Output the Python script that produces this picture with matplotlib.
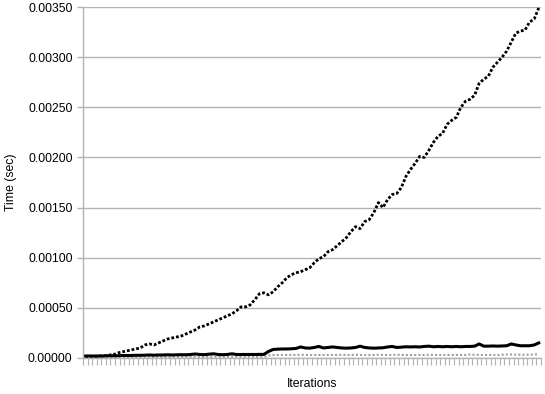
import numpy as np
import matplotlib
matplotlib.use("Agg")
import matplotlib.pyplot as plt
from matplotlib.ticker import FormatStrFormatter

plt.rcParams['font.family'] = ['Liberation Sans', 'DejaVu Sans']

# times, one value per iteration (100 iterations)
slow_times = [
    0.00001, 0.00001, 0.00001, 0.00002, 0.00002, 0.00003, 0.00003, 0.00005, 0.00006, 0.00007,
    0.00008, 0.00009, 0.00010, 0.00013, 0.00014, 0.00013, 0.00015, 0.00017, 0.00019, 0.00020,
    0.00021, 0.00022, 0.00024, 0.00026, 0.00028, 0.00031, 0.00032, 0.00034, 0.00036, 0.00038,
    0.00040, 0.00042, 0.00044, 0.00047, 0.00051, 0.00051, 0.00053, 0.00058, 0.00064, 0.00065,
    0.00063, 0.00066, 0.00071, 0.00075, 0.00080, 0.00083, 0.00085, 0.00086, 0.00088, 0.00090,
    0.00095, 0.00099, 0.00101, 0.00106, 0.00108, 0.00112, 0.00116, 0.00120, 0.00126, 0.00131,
    0.00129, 0.00136, 0.00138, 0.00145, 0.00155, 0.00150, 0.00158, 0.00163, 0.00164, 0.00170,
    0.00181, 0.00188, 0.00194, 0.00201, 0.00200, 0.00207, 0.00215, 0.00221, 0.00224, 0.00233,
    0.00237, 0.00240, 0.00250, 0.00256, 0.00258, 0.00262, 0.00274, 0.00278, 0.00281, 0.00290,
    0.00295, 0.00300, 0.00306, 0.00315, 0.00324, 0.00326, 0.00327, 0.00335, 0.00338, 0.00349,
]

mid_times = [
    0.000020, 0.000020, 0.000020, 0.000020, 0.000020, 0.000022, 0.000022, 0.000022, 0.000025, 0.000025,
    0.000025, 0.000027, 0.000027, 0.000028, 0.000030, 0.000028, 0.000030, 0.000030, 0.000032, 0.000030,
    0.000032, 0.000033, 0.000032, 0.000035, 0.000040, 0.000035, 0.000033, 0.000038, 0.000042, 0.000035,
    0.000033, 0.000035, 0.000042, 0.000035, 0.000035, 0.000035, 0.000035, 0.000035, 0.000036, 0.000036,
    0.000065, 0.000085, 0.000088, 0.000090, 0.000090, 0.000092, 0.000095, 0.000110, 0.000100, 0.000098,
    0.000105, 0.000115, 0.000100, 0.000105, 0.000110, 0.000105, 0.000100, 0.000098, 0.000100, 0.000105,
    0.000118, 0.000105, 0.000100, 0.000098, 0.000100, 0.000102, 0.000110, 0.000115, 0.000105, 0.000108,
    0.000112, 0.000110, 0.000112, 0.000110, 0.000115, 0.000118, 0.000112, 0.000115, 0.000112, 0.000115,
    0.000112, 0.000115, 0.000112, 0.000115, 0.000115, 0.000118, 0.000140, 0.000118, 0.000118, 0.000120,
    0.000118, 0.000120, 0.000122, 0.000140, 0.000130, 0.000122, 0.000122, 0.000122, 0.000130, 0.000150,
]

fast_times = [
    0.000010, 0.000010, 0.000010, 0.000010, 0.000010, 0.000010, 0.000010, 0.000010, 0.000010, 0.000010,
    0.000010, 0.000010, 0.000010, 0.000012, 0.000010, 0.000010, 0.000012, 0.000010, 0.000010, 0.000012,
    0.000012, 0.000012, 0.000012, 0.000012, 0.000012, 0.000012, 0.000012, 0.000012, 0.000012, 0.000012,
    0.000012, 0.000012, 0.000012, 0.000012, 0.000012, 0.000012, 0.000012, 0.000012, 0.000012, 0.000012,
    0.000025, 0.000030, 0.000030, 0.000030, 0.000030, 0.000030, 0.000030, 0.000032, 0.000030, 0.000030,
    0.000030, 0.000030, 0.000030, 0.000030, 0.000030, 0.000030, 0.000032, 0.000030, 0.000030, 0.000032,
    0.000030, 0.000030, 0.000030, 0.000030, 0.000032, 0.000030, 0.000030, 0.000030, 0.000032, 0.000030,
    0.000030, 0.000030, 0.000030, 0.000030, 0.000030, 0.000032, 0.000030, 0.000030, 0.000030, 0.000030,
    0.000030, 0.000030, 0.000030, 0.000030, 0.000035, 0.000032, 0.000030, 0.000030, 0.000030, 0.000030,
    0.000030, 0.000032, 0.000035, 0.000035, 0.000033, 0.000033, 0.000032, 0.000033, 0.000035, 0.000038,
]

y_ticks = [0.0, 0.0005, 0.0010, 0.0015, 0.0020, 0.0025, 0.0030, 0.0035]

iterations = np.arange(len(slow_times))

fig = plt.figure(figsize=(5.45, 3.94), dpi=100)
ax = fig.add_axes([0.1523, 0.0914, 0.8404, 0.8908])

grid_color = '#b3b3b3'
ax.plot(iterations, fast_times, color='#a0a0a0', linestyle=(0, (1, 1)), linewidth=1.5)
ax.plot(iterations, mid_times, color='black', linewidth=2.2, solid_joinstyle='round')
ax.plot(iterations, slow_times, color='black', linestyle=(0, (1, 0.7)), linewidth=2.0)

ax.set_xlim(-0.5, len(slow_times) - 0.5)
ax.set_ylim(0, 0.0035)
ax.set_yticks(y_ticks)
ax.yaxis.set_major_formatter(FormatStrFormatter('%.5f'))
ax.set_xticks(np.arange(-0.5, len(slow_times), 1))
ax.set_xticklabels([])

ax.grid(axis='y', color=grid_color, linewidth=1)
ax.set_axisbelow(True)
for side in ['top', 'right']:
    ax.spines[side].set_visible(False)
for side in ['left', 'bottom']:
    ax.spines[side].set_color(grid_color)
    ax.spines[side].set_linewidth(1)
ax.tick_params(axis='y', colors=grid_color, length=4, width=1, labelcolor='black', labelsize=8.8)
ax.tick_params(axis='x', colors=grid_color, length=5, width=0.8)

ax.set_ylabel('Time (sec)', fontsize=8.8, labelpad=8)
ax.set_xlabel('Iterations', fontsize=8.8)
ax.xaxis.set_label_coords(0.5, -0.058)

fig.savefig('out.png', dpi=100)
